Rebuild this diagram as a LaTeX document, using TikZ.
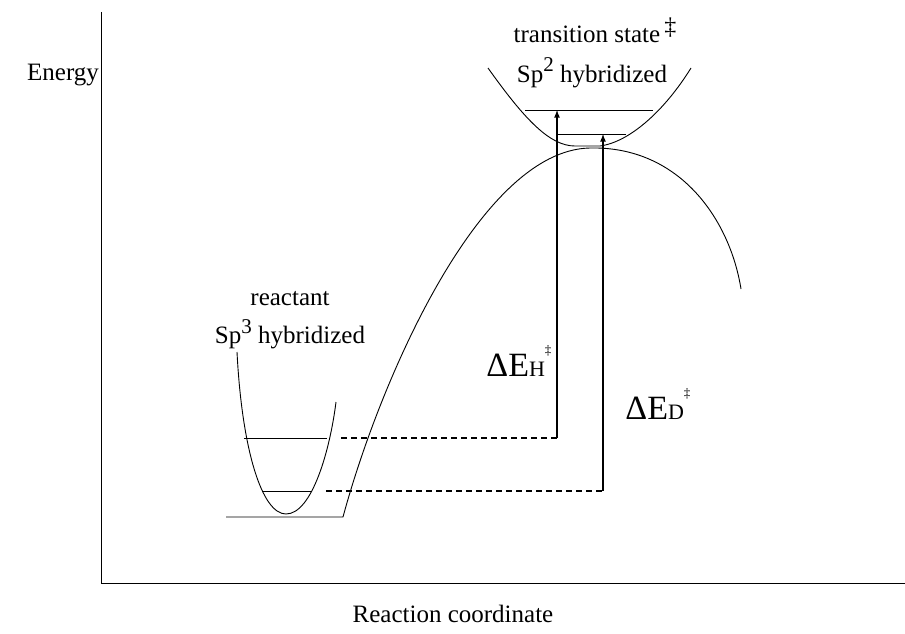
\documentclass[tikz,border=0pt]{standalone}
\usepackage{fontspec}
\setmainfont{Liberation Serif}
\begin{document}
\begin{tikzpicture}[>=latex, x=1pt, y=-1pt, line width=0.9pt]
\tikzset{
  lbl/.style={font=\fontsize{25}{30}\selectfont, inner sep=0pt, anchor=base},
  dlbl/.style={font=\fontsize{34}{40}\selectfont, inner sep=0pt, anchor=base west},
  gap/.style={line width=1.3pt, dash pattern=on 6pt off 4pt},
  rise/.style={->, line width=1.6pt}
}
\useasboundingbox (0,0) rectangle (905,634);
% axes
\draw (101,12)--(101,583)--(905,583);
\node[lbl] (energy) at (63,81) {Energy};
\node[lbl] (rc) at (453,622) {Reaction coordinate};
% reaction curve
\draw (226,517)--(343,517) .. controls (380,380) and (480,150) .. (590,148)
      .. controls (680,146) and (730,220) .. (741,289);
% reactant well
\draw (237,352) .. controls (242,450) and (262,514) .. (286,514)
      .. controls (312,514) and (330,450) .. (336,402);
\draw (244,438)--(327,438);
\draw (262,491)--(311,491);
\node[lbl] (reac) at (290,305) {reactant};
\node[lbl] (reachyb) at (290,343) {Sp\raisebox{10pt}{\fontsize{21}{24}\selectfont 3} hybridized};
% transition state well
\draw (488,68) .. controls (525,120) and (550,146) .. (575,146) -- (600,146)
      .. controls (630,142) and (665,110) .. (691,68);
\coordinate (tsH) at (557,110);
\coordinate (tsD) at (603,134);
\draw (525,110)--(653,110);
\draw (557,134)--(626,134);
\node[lbl] (tsname) at (595,43) {transition state\,\raisebox{8pt}{\fontsize{24}{26}\selectfont\ddag}};
\node[lbl] (tshyb) at (592,82) {Sp\raisebox{10pt}{\fontsize{21}{24}\selectfont 2} hybridized};
% zero point gaps
\coordinate (zH) at (557,438);
\coordinate (zD) at (603,491);
\draw[gap] (341,438)--(zH);
\draw[gap] (326,491)--(zD);
\draw[rise] (zH)--(tsH);
\draw[rise] (zD)--(tsD);
\node[dlbl] (dEH) at (486,376) {ΔE{\fontsize{22}{24}\selectfont H}\raisebox{22pt}{\fontsize{13}{14}\selectfont\ddag}};
\node[dlbl] (dED) at (625,419) {ΔE{\fontsize{22}{24}\selectfont D}\raisebox{22pt}{\fontsize{13}{14}\selectfont\ddag}};
\end{tikzpicture}
\end{document}
